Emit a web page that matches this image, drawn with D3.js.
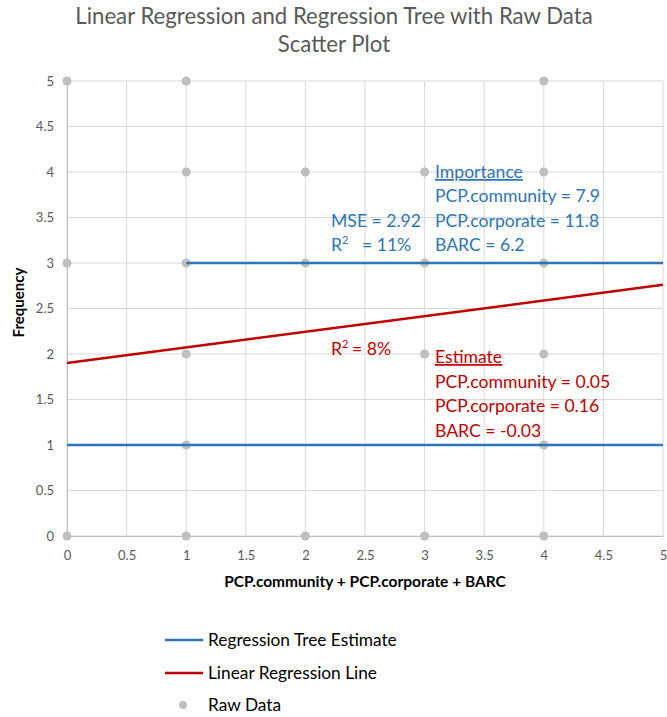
<!DOCTYPE html>
<html>
<head>
<meta charset="utf-8">
<script src="https://cdn.jsdelivr.net/npm/d3@7"></script>
<style>
  body { margin: 0; background: #fff; }
  svg { display: block; font-family: Lato, "Open Sans", sans-serif; }
</style>
</head>
<body>
<svg id="chart" width="667" height="717"></svg>
<script>
// Raw observations (x = PCP.community + PCP.corporate + BARC, y = frequency)
const rawX = [0, 1, 4, 1, 2, 3, 4, 0, 1, 2, 3, 4, 1, 3, 4, 1, 4, 0, 1, 2, 3, 4];
const rawY = [5, 5, 5, 4, 4, 4, 4, 3, 3, 3, 3, 3, 2, 2, 2, 1, 1, 0, 0, 0, 0, 0];

// Regression tree leaf estimates drawn as horizontal segments
const treeX0 = [1, 0];
const treeX1 = [5, 5];
const treeY = [3, 1];

// Linear regression line end points
const lmX = [0, 5];
const lmY = [1.9, 2.76];

// Axis ticks
const xTicks = [0, 0.5, 1, 1.5, 2, 2.5, 3, 3.5, 4, 4.5, 5];
const yTicks = [0, 0.5, 1, 1.5, 2, 2.5, 3, 3.5, 4, 4.5, 5];

// Annotation text
const treeStats = ["MSE = 2.92", "= 11%"];
const importanceLines = ["Importance", "PCP.community = 7.9", "PCP.corporate = 11.8", "BARC = 6.2"];
const lmStats = ["= 8%"];
const estimateLines = ["Estimate", "PCP.community = 0.05", "PCP.corporate = 0.16", "BARC = -0.03"];

const legendLabels = ["Regression Tree Estimate", "Linear Regression Line", "Raw Data"];

const BLUE = "#2E75B6", RED = "#C00000", DOT = "#BFBFBF", GRID = "#D9D9D9", TXT = "#595959";

const svg = d3.select("#chart");
const x = d3.scaleLinear().domain([0, 5]).range([67, 663]);
const y = d3.scaleLinear().domain([0, 5]).range([536, 81]);

// Title
svg.append("text").attr("x", 334).attr("y", 24).attr("text-anchor", "middle")
  .attr("fill", TXT).attr("font-size", 22.2)
  .text("Linear Regression and Regression Tree with Raw Data");
svg.append("text").attr("x", 334).attr("y", 52).attr("text-anchor", "middle")
  .attr("fill", TXT).attr("font-size", 22.2)
  .text("Scatter Plot");

// Gridlines
const grid = svg.append("g");
grid.selectAll("line.v").data(xTicks).join("line")
  .attr("x1", d => x(d)).attr("x2", d => x(d)).attr("y1", y(0)).attr("y2", y(5))
  .attr("stroke", GRID).attr("stroke-width", 1);
grid.selectAll("line.h").data(yTicks).join("line")
  .attr("x1", x(0)).attr("x2", x(5)).attr("y1", d => y(d)).attr("y2", d => y(d))
  .attr("stroke", GRID).attr("stroke-width", 1);

// Axes
const xAxis = svg.append("g").attr("transform", `translate(0,${y(0)})`)
  .call(d3.axisBottom(x).tickValues(xTicks).tickSize(0).tickPadding(15).tickFormat(d3.format("")));
const yAxis = svg.append("g").attr("transform", `translate(${x(0)},0)`)
  .call(d3.axisLeft(y).tickValues(yTicks).tickSize(0).tickPadding(13).tickFormat(d3.format("")));
[xAxis, yAxis].forEach(a => {
  a.select(".domain").attr("stroke", "#BFBFBF");
  a.selectAll("text").attr("fill", TXT).attr("font-size", 13).attr("font-family", "Lato, sans-serif");
});

// Axis titles
svg.append("text").attr("x", 365).attr("y", 587).attr("text-anchor", "middle")
  .attr("font-size", 15.5).attr("font-weight", 700).attr("fill", "#000")
  .text("PCP.community + PCP.corporate + BARC");
svg.append("text").attr("transform", `translate(24,${(y(0) + y(5)) / 2 - 6}) rotate(-90)`)
  .attr("text-anchor", "middle").attr("font-size", 15).attr("font-weight", 700).attr("fill", "#000")
  .text("Frequency");

// Raw data points
const pts = rawX.map((d, i) => ({ x: d, y: rawY[i] }));
svg.append("g").selectAll("circle").data(pts).join("circle")
  .attr("cx", d => x(d.x)).attr("cy", d => y(d.y)).attr("r", 4.5).attr("fill", DOT);

// Regression tree segments
const segs = treeY.map((v, i) => ({ x0: treeX0[i], x1: treeX1[i], y: v }));
svg.append("g").selectAll("line").data(segs).join("line")
  .attr("x1", d => x(d.x0)).attr("x2", d => x(d.x1))
  .attr("y1", d => y(d.y)).attr("y2", d => y(d.y))
  .attr("stroke", BLUE).attr("stroke-width", 2.5);

// Linear regression line
const lmPts = lmX.map((d, i) => [d, lmY[i]]);
svg.append("path").datum(lmPts)
  .attr("d", d3.line().x(d => x(d[0])).y(d => y(d[1])))
  .attr("fill", "none").attr("stroke", RED).attr("stroke-width", 2.5);

// Annotations
function rSquared(g, xPos, yPos, valueX, value, color) {
  const t = g.append("text").attr("x", xPos).attr("y", yPos).attr("fill", color);
  t.append("tspan").text("R");
  t.append("tspan").attr("font-size", "0.62em").attr("dy", -7).text("2");
  t.append("tspan").attr("dy", 7).attr("x", valueX).text(value);
}
const ann = svg.append("g").attr("font-size", 17.6);

ann.append("text").attr("x", 331).attr("y", 227).attr("fill", BLUE).text(treeStats[0]);
rSquared(ann, 331, 251, 362, treeStats[1], BLUE);

importanceLines.forEach((t, i) => {
  ann.append("text").attr("x", 435).attr("y", 178 + i * 24.3).attr("fill", BLUE)
    .attr("text-decoration", i === 0 ? "underline" : null).text(t);
});

rSquared(ann, 331, 355, 352, lmStats[0], RED);

estimateLines.forEach((t, i) => {
  ann.append("text").attr("x", 435).attr("y", 363 + i * 24.6).attr("fill", RED)
    .attr("text-decoration", i === 0 ? "underline" : null).text(t);
});

// Legend
const leg = svg.append("g").attr("font-size", 17.3).attr("fill", "#000");
const legY = [640, 673, 705];
leg.append("line").attr("x1", 165).attr("x2", 203).attr("y1", legY[0]).attr("y2", legY[0])
  .attr("stroke", BLUE).attr("stroke-width", 2.5);
leg.append("line").attr("x1", 165).attr("x2", 203).attr("y1", legY[1]).attr("y2", legY[1])
  .attr("stroke", RED).attr("stroke-width", 2.5);
leg.append("circle").attr("cx", 183).attr("cy", legY[2]).attr("r", 4).attr("fill", DOT);
legendLabels.forEach((t, i) => {
  leg.append("text").attr("x", 208).attr("y", legY[i] + 6).text(t);
});
</script>
</body>
</html>
